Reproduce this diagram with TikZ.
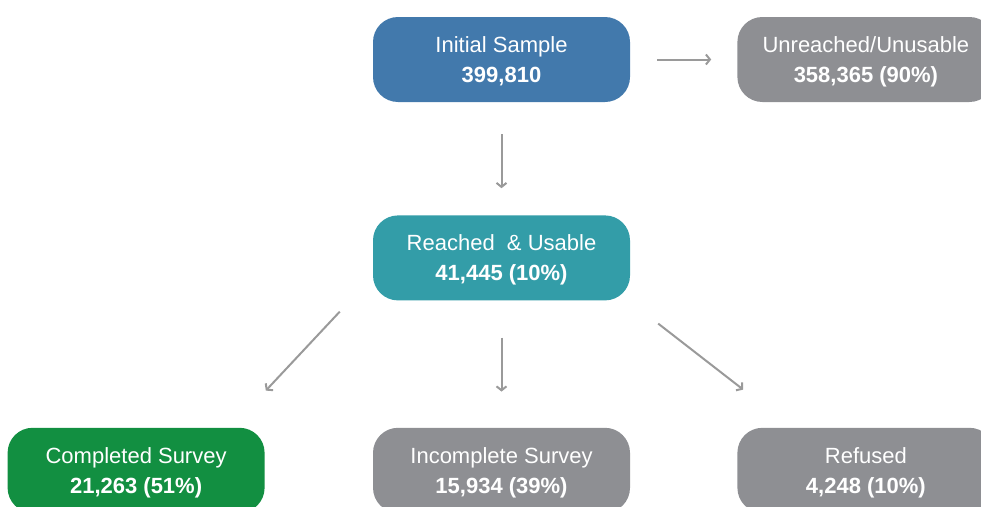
\documentclass[tikz,border=0pt]{standalone}
\usepackage{fontspec}
\setmainfont{Liberation Sans}
\usetikzlibrary{arrows.meta, positioning}

\definecolor{initblue}{HTML}{4279AC}
\definecolor{reachteal}{HTML}{339DA8}
\definecolor{donegreen}{HTML}{128F41}
\definecolor{boxgray}{HTML}{8E8F93}
\definecolor{arrowgray}{HTML}{9A9A9A}

\begin{document}
\begin{tikzpicture}[
  x=1pt, y=-1pt,
  node distance=113pt and 107pt,
  every node/.style={font=\fontsize{22pt}{30pt}\selectfont},
  stage/.style={rectangle, rounded corners=25pt, text=white, align=center, minimum width=257pt, minimum height=85pt, inner sep=0pt, text depth=0pt},
  line/.style={-{Straight Barb[length=4pt, width=10pt]}, arrowgray, line width=2pt}
]
\useasboundingbox (0,0) rectangle (981,506);
\clip (0,0) rectangle (981,506);

\node[stage, fill=initblue] (init) at (501.5,59.5) {Initial Sample\\\textbf{399,810}};
\node[stage, fill=boxgray, right=of init] (unreach) {Unreached/Unusable\\\textbf{358,365 (90\%)}};
\node[stage, fill=reachteal, below=of init] (reached) {Reached~ \& Usable\\\textbf{41,445 (10\%)}};
\node[stage, fill=boxgray, below=127pt of reached] (incomplete) {Incomplete Survey\\\textbf{15,934 (39\%)}};
\node[stage, fill=donegreen, left=108pt of incomplete] (completed) {Completed Survey\\\textbf{21,263 (51\%)}};
\node[stage, fill=boxgray, right=of incomplete] (refused) {Refused\\\textbf{4,248 (10\%)}};

\draw[line, shorten <=27pt, shorten >=26pt] (init) -- (unreach);
\draw[line, shorten <=32pt, shorten >=27pt] (init) -- (reached);
\draw[line, shorten <=37pt, shorten >=36pt] (reached) -- (incomplete);
\draw[line] ([xshift=-33pt, yshift=-11pt]reached.south west) -- ([xshift=1pt, yshift=37pt]completed.north east);
\draw[line] ([xshift=28pt, yshift=-23pt]reached.south east) -- ([xshift=6pt, yshift=38pt]refused.north west);
\end{tikzpicture}
\end{document}
